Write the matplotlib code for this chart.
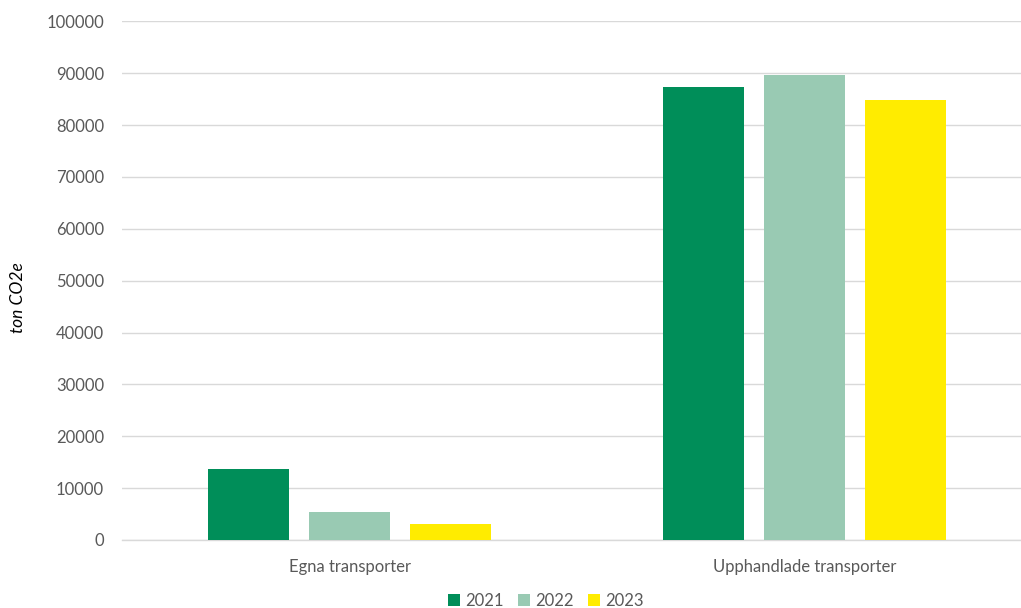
import matplotlib
matplotlib.use("Agg")
import matplotlib.pyplot as plt
from matplotlib.patches import Patch
import numpy as np

categories = ["Egna transporter", "Upphandlade transporter"]
years = ["2021", "2022", "2023"]
values_2021 = [13700, 87300]
values_2022 = [5350, 89650]
values_2023 = [3100, 84750]
yticks = [0, 10000, 20000, 30000, 40000, 50000, 60000, 70000, 80000, 90000, 100000]

colors = ["#008E59", "#99CAB3", "#FFEC00"]
series = [values_2021, values_2022, values_2023]

plt.rcParams['font.family'] = ['Lato', 'DejaVu Sans']
W, H = 1021, 608
fig = plt.figure(figsize=(W / 100, H / 100), dpi=100)

left, right = 122, 1032
top, bottom = 21.3, 540
ax = fig.add_axes([left / W, 1 - bottom / H, (right - left) / W, (bottom - top) / H])

x = np.arange(len(categories))
step = 0.222
width = 0.176
for i, (vals, c, yr) in enumerate(zip(series, colors, years)):
    ax.bar(x + (i - 1) * step, vals, width=width, color=c, label=yr, zorder=3)

ax.set_xlim(-0.5, 1.5)
ax.set_ylim(0, 100000)
ax.set_yticks(yticks)
ax.set_yticklabels([str(v) for v in yticks])
ax.grid(axis='y', color='#D9D9D9', linewidth=1.0, zorder=0)
for s in ['top', 'right', 'left']:
    ax.spines[s].set_visible(False)
ax.spines['bottom'].set_color('#D9D9D9')
ax.spines['bottom'].set_linewidth(1.0)
ax.tick_params(axis='y', length=0, pad=13, labelsize=12, labelcolor='#595959')
ax.tick_params(axis='x', length=0, pad=14, labelsize=12, labelcolor='#595959')
ax.set_xticks(x)
ax.set_xticklabels(categories)

fig.text(18 / W, 1 - 298 / H, "ton CO2e", rotation=90, style='italic',
         fontsize=12.5, color='#000000', ha='center', va='center')

handles = [Patch(facecolor=c, edgecolor='none') for c in colors]
fig.legend(handles, years, loc='center', bbox_to_anchor=(546 / W, 1 - 601 / H),
           ncol=3, frameon=False, fontsize=12, labelcolor='#595959',
           handlelength=0.7, handleheight=0.7, handletextpad=0.35,
           columnspacing=0.85, borderaxespad=0)

fig.savefig("out.png", dpi=100)
